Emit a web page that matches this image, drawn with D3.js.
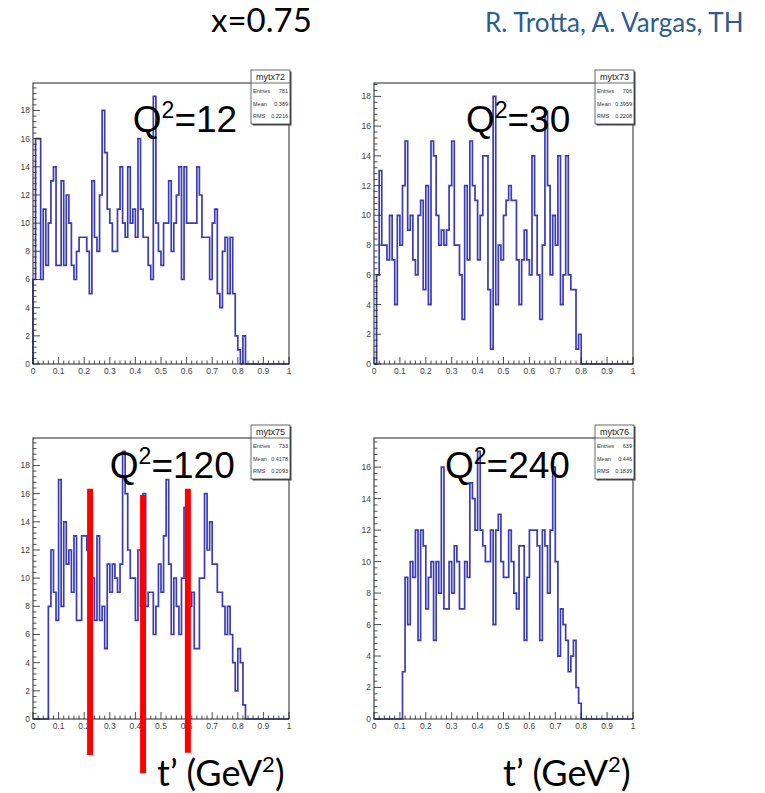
<!DOCTYPE html>
<html>
<head>
<meta charset="utf-8">
<script src="https://cdn.jsdelivr.net/npm/d3@7"></script>
<style>
  body { margin: 0; background: #fff; }
  svg text { font-family: "Liberation Sans", Arial, sans-serif; }
  .slide { font-family: Lato, "Open Sans", sans-serif; }
</style>
</head>
<body>
<svg id="chart" width="765" height="793"></svg>
<script>
// bin contents, 100 bins of width 0.01 on [0,1]; bins after the last value are empty
var countsQ12 = [6,16,16,6,11,7,10,13,14,7, 7,13,7,12,10,7,6,8,9,9,
                 9,8,5,13,9,8,12,18,15,11, 10,8,8,11,14,10,9,14,10,11,
                 9,16,11,9,9,7,6,19,10,8, 7,10,10,13,8,10,12,14,6,14,
                 10,10,10,10,14,12,9,9,9,6, 10,11,5,4,8,9,5,9,5,2,
                 1,0,2];
var countsQ30 = [0,6,13,8,8,7,10,7,4,10, 8,12,15,9,10,7,6,10,11,5,
                 12,4,15,14,10,8,9,8,9,12, 15,8,8,6,3,12,7,15,12,11,
                 7,10,14,14,5,1,18,4,8,7, 10,11,12,11,11,7,4,7,9,7,
                 6,14,10,6,3,8,17,12,6,10, 8,14,4,6,14,6,5,5,1,2];
var countsQ120 = [0,0,0,0,0,0,8,12,9,7, 17,8,14,11,12,9,13,7,7,13,
                  13,12,12,10,7,13,7,8,5,11, 9,11,10,9,11,19,16,12,10,10,
                  7,12,8,16,8,9,9,6,8,11, 9,13,17,11,6,10,8,6,10,15,
                  8,8,9,5,5,10,10,16,12,14, 11,11,9,9,8,6,8,6,4,2,
                  5,4,1];
var countsQ240 = [0,0,0,0,0,0,0,0,0,0, 0,3,9,6,10,9,12,5,12,11,
                  7,9,10,5,10,8,16,7,7,10, 8,11,10,7,7,10,9,15,14,12,
                  17,12,11,10,10,12,6,12,13,10, 9,9,12,10,8,7,11,11,5,9,
                  12,12,12,11,5,12,11,8,12,16, 10,4,7,6,5,3,4,5,2,1];

var histNames = ["mytx72", "mytx73", "mytx75", "mytx76"];
var q2Values = ["12", "30", "120", "240"];
var entries = ["781", "706", "733", "639"];
var means = ["0.389", "0.3959", "0.4178", "0.446"];
var rmsValues = ["0.2216", "0.2208", "0.2093", "0.1839"];
var xTickLabels = ["0", "0.1", "0.2", "0.3", "0.4", "0.5", "0.6", "0.7", "0.8", "0.9", "1"];

// red cut markers drawn on the Q2=120 panel (t' position, top and bottom in counts)
var cutX = [0.223, 0.43, 0.605];
var cutTop = [16.35, 15.9, 16.35];
var cutBottom = [-2.55, -3.85, -2.4];

var allCounts = [countsQ12, countsQ30, countsQ120, countsQ240];

// layout of the four pads
var frames = [
  {x: 33, y: 83, w: 256, h: 281},
  {x: 374, y: 83, w: 259, h: 281},
  {x: 33, y: 438, w: 256, h: 281},
  {x: 374, y: 438, w: 259, h: 281}
];
// where the Q2 label starts, in (t', counts) of its pad
var labelAt = [[0.39, 16.5], [0.355, 15.6], [0.30, 17.1], [0.274, 15.3]];

var svg = d3.select("#chart");
var lineColor = "#3b3bb4";

frames.forEach(function(f, k) {
  var counts = allCounts[k];
  var yMax = d3.max(counts) * 1.05;
  var x = d3.scaleLinear().domain([0, 1]).range([f.x, f.x + f.w]);
  var y = d3.scaleLinear().domain([0, yMax]).range([f.y + f.h, f.y]);
  var g = svg.append("g");

  // histogram outline
  var pts = [{t: 0, c: 0}];
  counts.forEach(function(c, i) { pts.push({t: i * 0.01, c: c}); });
  pts.push({t: counts.length * 0.01, c: 0});
  pts.push({t: 1, c: 0});
  var step = d3.line()
    .x(function(d) { return x(d.t); })
    .y(function(d) { return y(d.c); })
    .curve(d3.curveStepAfter);
  g.append("path")
    .attr("d", step(pts))
    .attr("fill", "none")
    .attr("stroke", lineColor)
    .attr("stroke-width", 1.7);

  // frame
  g.append("rect")
    .attr("x", f.x).attr("y", f.y)
    .attr("width", f.w).attr("height", f.h)
    .attr("fill", "none").attr("stroke", "#222").attr("stroke-width", 1);

  // x ticks (inside the frame)
  var xb = f.y + f.h;
  d3.range(0, 51).forEach(function(i) {
    var major = i % 5 === 0;
    g.append("line")
      .attr("x1", x(i * 0.02)).attr("x2", x(i * 0.02))
      .attr("y1", xb).attr("y2", xb - (major ? 7 : 3.5))
      .attr("stroke", "#222").attr("stroke-width", 0.8);
  });
  xTickLabels.forEach(function(lab, i) {
    g.append("text")
      .attr("x", x(i / 10)).attr("y", xb + 10)
      .attr("text-anchor", "middle")
      .attr("font-size", 8.5).attr("fill", "#444")
      .text(lab);
  });

  // y ticks
  d3.range(0, yMax, 0.4).forEach(function(v, i) {
    var major = i % 5 === 0;
    g.append("line")
      .attr("x1", f.x).attr("x2", f.x + (major ? 7 : 3.5))
      .attr("y1", y(v)).attr("y2", y(v))
      .attr("stroke", "#222").attr("stroke-width", 0.8);
  });
  d3.range(0, yMax, 2).forEach(function(v) {
    g.append("text")
      .attr("x", f.x - 3).attr("y", y(v))
      .attr("dy", "0.35em")
      .attr("text-anchor", "end")
      .attr("font-size", 8.5).attr("fill", "#444")
      .text(v);
  });

  // stats box
  var bx = f.x + f.w - 38, by = f.y - 13, bw = 39, bh = 54;
  g.append("rect").attr("x", bx + 1.5).attr("y", by + 1.5)
    .attr("width", bw).attr("height", bh).attr("fill", "#444");
  g.append("rect").attr("x", bx).attr("y", by)
    .attr("width", bw).attr("height", bh)
    .attr("fill", "#fff").attr("stroke", "#444").attr("stroke-width", 0.8);
  g.append("line").attr("x1", bx).attr("x2", bx + bw)
    .attr("y1", by + 13).attr("y2", by + 13)
    .attr("stroke", "#444").attr("stroke-width", 0.8);
  g.append("text").attr("x", bx + bw / 2).attr("y", by + 10)
    .attr("text-anchor", "middle").attr("font-size", 9).attr("fill", "#222")
    .text(histNames[k]);
  [["Entries", entries[k]], ["Mean", means[k]], ["RMS", rmsValues[k]]].forEach(function(r, j) {
    var ty = by + 23 + j * 12.5;
    g.append("text").attr("x", bx + 2).attr("y", ty)
      .attr("font-size", 5.5).attr("fill", "#333").text(r[0]);
    g.append("text").attr("x", bx + bw - 2).attr("y", ty)
      .attr("text-anchor", "end")
      .attr("font-size", 5.5).attr("fill", "#333").text(r[1]);
  });

  // Q2 label
  var lab = g.append("text")
    .attr("x", x(labelAt[k][0])).attr("y", y(labelAt[k][1]))
    .attr("font-size", 37).attr("fill", "#000");
  lab.append("tspan").text("Q");
  lab.append("tspan").attr("font-size", 23).attr("dy", -14).text("2");
  lab.append("tspan").attr("dy", 14).text("=" + q2Values[k]);

  // cut markers on the Q2=120 pad
  if (k === 2) {
    cutX.forEach(function(t, i) {
      g.append("line")
        .attr("x1", x(t)).attr("x2", x(t))
        .attr("y1", y(cutTop[i])).attr("y2", y(cutBottom[i]))
        .attr("stroke", "#ff0000").attr("stroke-width", 6);
    });
  }
});

// slide texts
svg.append("text").attr("class", "slide")
  .attr("x", 211).attr("y", 32)
  .attr("font-size", 33).attr("fill", "#000")
  .text("x=0.75");
svg.append("text").attr("class", "slide")
  .attr("x", 485).attr("y", 32)
  .attr("font-size", 26).attr("fill", "#2f5d8c")
  .text("R. Trotta, A. Vargas, TH");

[157, 503].forEach(function(px) {
  var t = svg.append("text").attr("class", "slide")
    .attr("x", px).attr("y", 786)
    .attr("font-size", 36).attr("fill", "#000");
  t.append("tspan").text("t\u2019 (GeV");
  t.append("tspan").attr("font-size", 22).attr("dy", -14).text("2");
  t.append("tspan").attr("dy", 14).text(")");
});
</script>
</body>
</html>
